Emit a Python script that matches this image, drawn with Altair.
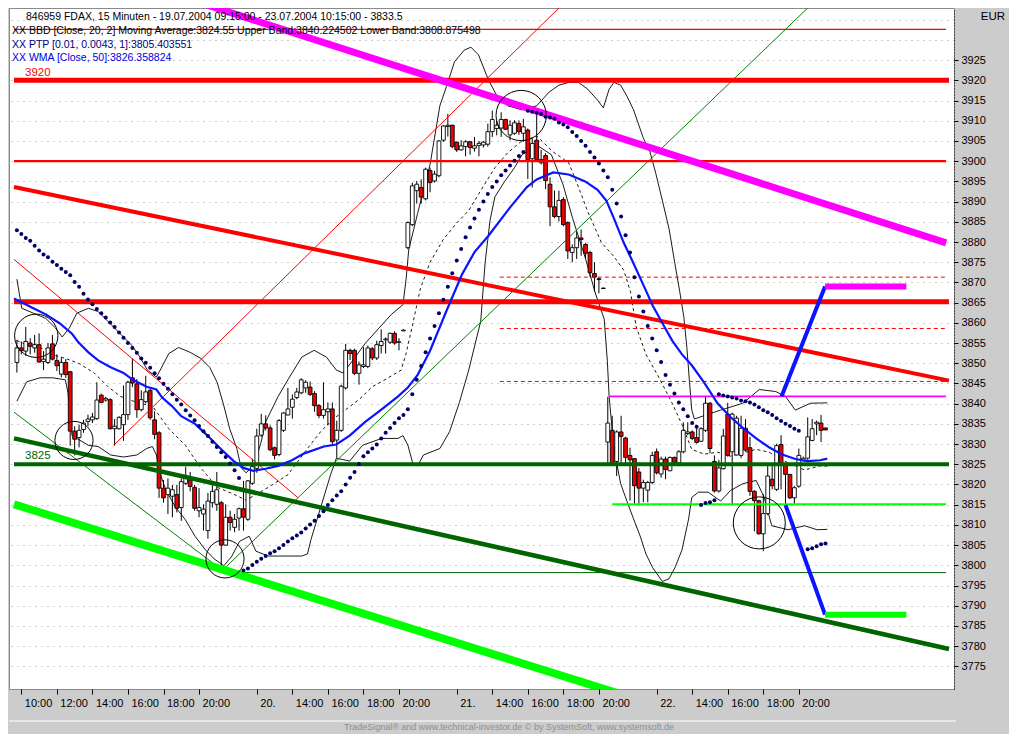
import altair as alt
import pandas as pd

# ---------------- candles (15-minute bars, index 0..182) ----------------
opens = [3850.2, 3853.8, 3853.0, 3855.0, 3853.8, 3854.6, 3850.4, 3850.2, 3854.8, 3850.7,
         3847.3, 3850.2, 3847.9, 3833.2, 3831.6, 3833.6, 3835.6, 3836.0, 3836.3, 3842.1,
         3840.9, 3841.0, 3833.8, 3833.8, 3834.8, 3837.3, 3846.4, 3844.9, 3838.5, 3840.5,
         3843.3, 3836.0, 3832.8, 3819.1, 3817.5, 3817.1, 3817.5, 3814.3, 3820.3, 3821.1,
         3819.3, 3813.5, 3812.7, 3808.6, 3815.5, 3815.1, 3815.5, 3805.0, 3811.9, 3809.4,
         3811.7, 3814.0, 3811.4, 3820.3, 3824.0, 3832.2, 3835.0, 3834.0, 3829.1, 3827.4,
         3833.4, 3837.2, 3839.1, 3841.5, 3842.7, 3843.9, 3844.1, 3842.5, 3839.5, 3837.1,
         3838.0, 3838.7, 3831.0, 3833.4, 3843.9, 3853.2, 3853.2, 3847.5, 3849.2, 3849.2,
         3853.6, 3851.3, 3854.4, 3855.8, 3855.2, 3857.4, 3855.2, 3858.0, 3878.6, 3884.3,
         3892.7, 3893.5, 3890.7, 3897.7, 3895.1, 3896.4, 3905.2, 3908.6, 3908.9, 3904.7,
         3902.8, 3903.6, 3904.8, 3903.2, 3903.9, 3904.0, 3904.2, 3907.3, 3908.1, 3908.2,
         3910.3, 3906.5, 3906.9, 3909.3, 3906.9, 3907.7, 3900.6, 3905.2, 3899.6, 3901.4,
         3894.3, 3888.7, 3886.3, 3890.5, 3884.8, 3877.4, 3878.6, 3881.0, 3879.4, 3877.4,
         3872.2, 3870.9, 3868.6, 3830.5, 3833.4, 3825.7, 3833.0, 3831.5, 3827.2, 3826.4,
         3823.1, 3819.1, 3818.6, 3820.5, 3828.1, 3822.6, 3826.3, 3823.4, 3826.7, 3825.3,
         3828.1, 3832.6, 3833.0, 3831.6, 3830.7, 3833.4, 3840.1, 3825.7, 3818.4, 3823.9,
         3837.4, 3828.1, 3827.3, 3827.2, 3833.9, 3829.1, 3818.3, 3816.0, 3807.8, 3812.8,
         3821.3, 3818.8, 3829.9, 3824.9, 3822.5, 3816.7, 3819.6, 3825.9, 3826.5, 3830.9,
         3835.0, 3835.2, 3834.0]
highs = [3855.8, 3855.4, 3859.0, 3856.2, 3857.0, 3857.4, 3853.0, 3855.0, 3857.0, 3852.2,
         3851.4, 3851.0, 3848.1, 3834.4, 3834.8, 3836.0, 3837.3, 3837.7, 3845.3, 3842.5,
         3841.7, 3841.3, 3836.2, 3836.9, 3844.5, 3845.7, 3851.2, 3846.1, 3843.3, 3846.9,
         3843.7, 3838.1, 3833.2, 3821.1, 3821.5, 3819.9, 3819.9, 3821.5, 3824.4, 3823.1,
         3819.9, 3819.1, 3815.1, 3817.9, 3819.9, 3823.1, 3815.9, 3815.1, 3813.5, 3812.7,
         3814.3, 3820.9, 3821.1, 3826.4, 3833.8, 3837.5, 3837.1, 3834.6, 3829.4, 3836.2,
         3837.9, 3843.9, 3842.3, 3843.9, 3846.3, 3845.8, 3845.5, 3843.1, 3839.9, 3845.3,
         3840.3, 3840.3, 3835.8, 3844.7, 3854.8, 3853.6, 3853.6, 3850.4, 3854.0, 3854.4,
         3854.0, 3855.6, 3858.4, 3856.4, 3857.6, 3857.9, 3856.2, 3858.4, 3885.1, 3894.7,
         3895.1, 3895.5, 3898.4, 3898.4, 3897.6, 3905.2, 3908.9, 3911.7, 3909.0, 3904.8,
         3905.2, 3905.2, 3905.0, 3906.0, 3905.0, 3905.0, 3909.3, 3912.5, 3910.1, 3912.1,
         3910.5, 3910.1, 3910.1, 3910.1, 3910.5, 3908.1, 3905.6, 3912.5, 3902.8, 3902.0,
         3896.0, 3892.7, 3892.7, 3891.1, 3885.1, 3879.4, 3882.6, 3883.1, 3879.8, 3877.8,
         3875.0, 3871.3, 3868.7, 3841.7, 3837.0, 3833.4, 3837.0, 3831.8, 3829.1, 3826.5,
         3824.1, 3821.2, 3820.9, 3828.1, 3828.9, 3826.9, 3826.9, 3826.9, 3826.9, 3828.5,
         3835.4, 3835.4, 3833.4, 3834.2, 3834.2, 3841.8, 3840.4, 3827.2, 3826.1, 3833.8,
         3840.2, 3837.8, 3837.0, 3837.0, 3836.2, 3831.8, 3818.6, 3816.2, 3817.6, 3824.9,
         3824.9, 3830.1, 3832.2, 3825.3, 3822.6, 3819.6, 3828.9, 3826.9, 3836.6, 3836.2,
         3835.8, 3837.2, 3834.0]
lows = [3847.7, 3852.2, 3851.8, 3852.2, 3852.6, 3850.2, 3848.3, 3849.8, 3850.7, 3848.1,
        3846.5, 3846.4, 3829.6, 3827.2, 3829.2, 3832.8, 3834.4, 3835.2, 3836.0, 3840.1,
        3840.5, 3833.6, 3829.6, 3833.6, 3830.8, 3836.0, 3844.1, 3836.5, 3838.1, 3840.1,
        3836.0, 3831.2, 3816.7, 3815.5, 3812.7, 3811.9, 3813.1, 3811.0, 3819.9, 3818.3,
        3813.5, 3811.9, 3808.6, 3806.6, 3814.3, 3813.5, 3799.0, 3804.8, 3808.6, 3808.2,
        3808.6, 3808.6, 3811.0, 3819.9, 3822.9, 3831.8, 3833.4, 3828.2, 3826.2, 3827.0,
        3833.0, 3837.1, 3836.3, 3841.1, 3842.3, 3842.7, 3841.9, 3838.0, 3836.4, 3836.3,
        3834.6, 3829.8, 3826.6, 3833.0, 3843.5, 3850.8, 3847.1, 3844.7, 3848.8, 3848.8,
        3850.8, 3850.8, 3852.4, 3852.4, 3854.8, 3854.6, 3853.2, 3858.0, 3878.2, 3883.9,
        3889.5, 3889.5, 3890.3, 3892.3, 3894.7, 3896.0, 3904.8, 3906.1, 3903.2, 3902.3,
        3902.6, 3901.2, 3901.6, 3902.4, 3901.2, 3903.4, 3903.6, 3906.0, 3906.4, 3906.0,
        3907.7, 3905.2, 3906.5, 3906.5, 3904.8, 3895.6, 3893.5, 3900.0, 3899.2, 3893.1,
        3883.9, 3885.9, 3885.1, 3883.9, 3875.8, 3875.0, 3875.8, 3876.6, 3875.8, 3871.3,
        3867.7, 3867.3, 3868.4, 3825.3, 3824.9, 3822.1, 3825.3, 3825.3, 3816.0, 3815.2,
        3814.8, 3815.6, 3815.6, 3820.1, 3822.5, 3821.7, 3821.3, 3823.3, 3824.9, 3824.9,
        3827.7, 3832.2, 3831.0, 3830.1, 3830.5, 3833.0, 3827.7, 3818.0, 3818.0, 3823.7,
        3826.9, 3815.2, 3827.2, 3826.5, 3828.1, 3817.2, 3808.4, 3807.6, 3803.5, 3812.4,
        3818.8, 3818.4, 3818.8, 3815.2, 3816.4, 3815.2, 3819.2, 3825.7, 3826.1, 3830.7,
        3832.2, 3830.5, 3833.5]
closes = [3853.8, 3853.1, 3855.4, 3854.2, 3854.6, 3850.3, 3851.0, 3853.8, 3851.0, 3849.4,
          3850.2, 3847.2, 3833.2, 3831.2, 3833.4, 3835.2, 3836.2, 3836.7, 3840.9, 3840.3,
          3841.3, 3833.8, 3834.4, 3836.6, 3837.3, 3845.3, 3845.1, 3838.5, 3841.0, 3842.9,
          3836.5, 3832.4, 3819.1, 3816.7, 3819.1, 3818.7, 3814.1, 3820.7, 3821.5, 3819.5,
          3814.1, 3814.3, 3813.9, 3815.9, 3818.3, 3818.7, 3805.0, 3811.9, 3810.6, 3811.4,
          3814.0, 3811.9, 3820.9, 3824.4, 3832.0, 3835.0, 3834.0, 3828.6, 3827.2, 3835.8,
          3837.7, 3838.7, 3841.1, 3842.9, 3845.9, 3845.3, 3842.3, 3839.5, 3837.1, 3838.5,
          3838.7, 3830.6, 3833.4, 3844.3, 3853.2, 3852.4, 3847.5, 3849.6, 3849.6, 3853.8,
          3851.3, 3854.6, 3855.4, 3856.0, 3857.4, 3855.0, 3855.3, 3858.2, 3884.8, 3893.9,
          3894.3, 3891.1, 3898.0, 3894.7, 3896.8, 3905.0, 3908.7, 3908.9, 3903.6, 3902.8,
          3903.8, 3904.8, 3903.4, 3903.8, 3904.4, 3904.7, 3907.3, 3910.3, 3908.9, 3910.3,
          3907.9, 3908.9, 3909.5, 3907.3, 3908.5, 3900.4, 3904.4, 3900.4, 3900.4, 3895.2,
          3888.7, 3886.3, 3890.3, 3884.3, 3877.8, 3878.6, 3881.0, 3880.6, 3877.2, 3872.4,
          3871.3, 3870.7, 3868.5, 3835.2, 3825.3, 3833.0, 3831.9, 3826.7, 3826.1, 3819.7,
          3819.1, 3820.5, 3820.5, 3827.2, 3822.9, 3826.3, 3823.7, 3826.7, 3825.5, 3828.1,
          3833.4, 3833.0, 3831.4, 3830.4, 3833.8, 3840.1, 3828.9, 3818.4, 3824.1, 3832.0,
          3827.2, 3837.4, 3836.4, 3833.9, 3828.5, 3818.3, 3816.0, 3807.8, 3812.8, 3822.1,
          3819.7, 3829.6, 3824.9, 3822.5, 3816.7, 3819.2, 3827.2, 3826.5, 3831.8, 3833.8,
          3835.4, 3833.4, 3833.5]
bars = list(range(len(opens)))

# ---------------- WMA(50) ----------------
wma_bars = [-0.65, 3.7, 6.5, 9.6, 12.4, 13.9, 16.1, 18.3, 21.1, 24.0, 26.1, 29.2, 31.4, 32.7,
            34.9, 37.0, 40.1, 42.9, 45.8, 48.8, 51.0, 53.2, 56.0, 58.8, 61.9, 64.7, 69.1,
            71.9, 74.9, 78.4, 82.1, 85.8, 88.0, 90.2, 93.0, 96.7, 100.2, 103.0, 106.1, 111.1,
            114.8, 117.0, 120.7, 124.2, 127.9, 130.7, 132.7, 134.4, 136.6, 138.8, 141.0,
            143.1, 145.3, 147.5, 149.7, 151.9, 154.7, 157.7, 160.6, 163.4, 166.4, 169.3,
            172.1, 175.2, 178.0, 180.8, 182.4]
wma_vals = [3866.0, 3863.6, 3862.1, 3859.9, 3857.3, 3855.1, 3852.7, 3850.7, 3849.0, 3847.6,
            3845.9, 3844.2, 3843.5, 3841.5, 3839.4, 3836.9, 3835.0, 3832.1, 3828.9, 3825.8,
            3824.1, 3823.4, 3823.9, 3824.6, 3826.0, 3827.7, 3829.4, 3829.9, 3832.1, 3835.5,
            3838.6, 3841.8, 3844.0, 3847.1, 3853.1, 3863.0, 3872.0, 3877.5, 3881.5, 3888.7,
            3893.6, 3895.5, 3897.2, 3896.7, 3895.0, 3892.9, 3890.2, 3885.8, 3879.8, 3874.7,
            3869.4, 3864.3, 3859.9, 3855.6, 3852.2, 3849.5, 3845.2, 3840.1, 3836.7, 3834.0,
            3831.4, 3829.2, 3827.5, 3826.3, 3825.8, 3826.0, 3826.4]

# ---------------- Bollinger bands (20, 2) ----------------
bb_up_bars = [0.0, 1.1, 3.7, 6.5, 8.7, 10.2, 11.8, 13.5, 16.1, 18.3, 21.1, 23.7, 25.9, 27.7,
              29.4, 31.4, 32.5, 34.2, 36.4, 39.0, 41.4, 43.4, 45.1, 46.6, 47.9, 49.5, 50.5,
              51.6, 53.4, 54.9, 56.0, 58.8, 61.0, 64.1, 66.9, 69.7, 71.9, 73.4, 75.6, 78.4,
              81.5, 84.3, 86.9, 87.6, 88.2, 90.2, 93.0, 95.2, 96.7, 98.5, 100.7, 102.2,
              103.9, 106.1, 108.3, 110.5, 113.7, 117.0, 119.8, 122.0, 124.2, 126.4, 128.5,
              130.7, 132.0, 133.3, 134.4, 135.9, 137.3, 138.8, 141.0, 142.5, 143.8, 145.3,
              146.8, 148.1, 149.2, 150.1, 150.8, 151.4, 151.9, 152.5, 155.6, 158.4, 163.4,
              167.1, 170.8, 173.0, 175.2, 178.6, 182.4]
bb_up_vals = [3870.8, 3863.6, 3862.4, 3861.1, 3858.7, 3856.5, 3858.7, 3862.4, 3863.6, 3862.8,
              3859.7, 3856.8, 3854.4, 3851.5, 3848.3, 3846.6, 3848.8, 3852.4, 3853.9, 3852.7,
              3851.2, 3849.0, 3845.2, 3839.4, 3833.8, 3828.9, 3824.1, 3822.9, 3824.8, 3830.2,
              3835.5, 3841.8, 3845.9, 3851.5, 3853.2, 3851.5, 3848.3, 3847.6, 3850.7, 3854.9,
              3858.7, 3862.1, 3864.5, 3870.8, 3878.1, 3887.1, 3899.2, 3913.7, 3918.5, 3924.6,
              3927.5, 3928.2, 3926.3, 3920.2, 3915.6, 3913.7, 3912.7, 3913.7, 3917.1, 3918.8,
              3919.5, 3919.5, 3917.8, 3915.1, 3913.2, 3917.8, 3919.5, 3918.8, 3916.1, 3912.7,
              3905.7, 3902.3, 3897.0, 3890.2, 3883.2, 3874.7, 3867.7, 3861.6, 3853.9, 3845.2,
              3838.4, 3836.2, 3837.4, 3838.4, 3840.1, 3843.5, 3843.0, 3841.8, 3838.4, 3840.1,
              3840.2]
bb_lo_bars = [0.0, 2.2, 5.2, 8.1, 10.9, 11.5, 12.0, 12.4, 16.1, 18.3, 21.1, 24.0, 27.0, 29.2,
              30.5, 31.4, 32.0, 33.6, 35.7, 37.9, 40.1, 42.3, 44.4, 46.6, 48.4, 50.1, 52.3,
              53.8, 56.6, 61.0, 64.1, 65.4, 66.2, 68.4, 70.6, 71.9, 74.9, 77.8, 82.1, 85.8,
              86.9, 88.0, 89.1, 90.2, 91.5, 95.2, 97.4, 99.6, 101.7, 104.4, 105.4, 106.5,
              107.6, 109.8, 112.0, 113.7, 117.0, 120.3, 122.9, 125.1, 127.9, 130.1, 132.2,
              132.9, 133.3, 134.4, 135.9, 137.3, 138.8, 140.3, 141.6, 143.1, 145.3, 146.8,
              148.1, 149.7, 151.2, 151.9, 153.4, 155.6, 158.4, 160.6, 163.4, 166.4, 168.2,
              169.9, 173.6, 177.3, 180.1, 182.4]
bb_lo_vals = [3840.6, 3845.4, 3846.4, 3846.4, 3845.9, 3842.7, 3836.9, 3832.1, 3829.7, 3829.4,
              3827.3, 3826.8, 3827.3, 3828.9, 3829.4, 3827.3, 3823.4, 3818.5, 3814.4, 3811.3,
              3807.2, 3804.0, 3801.6, 3799.9, 3802.3, 3805.9, 3807.2, 3803.5, 3802.3, 3802.3,
              3802.3, 3802.8, 3806.4, 3814.4, 3822.4, 3826.5, 3825.8, 3829.7, 3831.4, 3831.4,
              3832.1, 3829.7, 3825.3, 3824.6, 3827.3, 3828.9, 3833.1, 3840.3, 3848.3, 3860.4,
              3875.0, 3885.4, 3891.2, 3895.0, 3898.4, 3901.6, 3904.0, 3901.6, 3894.3, 3885.8,
              3876.2, 3867.7, 3860.9, 3850.5, 3841.8, 3828.7, 3820.2, 3815.9, 3811.5, 3807.2,
              3802.8, 3799.4, 3796.0, 3796.7, 3799.4, 3803.8, 3811.5, 3816.8, 3818.1, 3818.1,
              3815.9, 3818.5, 3820.2, 3821.0, 3816.8, 3809.8, 3808.8, 3809.8, 3808.8, 3808.9]
bb_mid_bars = [0.0, 3.7, 6.5, 8.7, 10.9, 13.9, 17.4, 20.5, 23.3, 27.0, 30.5, 34.2, 37.9, 41.4,
               45.1, 48.8, 51.6, 56.6, 61.0, 65.4, 68.4, 71.2, 74.1, 77.1, 80.0, 82.8, 86.5,
               87.6, 89.1, 90.8, 93.0, 95.9, 98.9, 101.7, 104.6, 107.6, 110.5, 113.3, 117.0,
               120.7, 124.2, 126.4, 128.5, 131.6, 134.4, 136.6, 138.1, 139.4, 141.6, 144.7,
               147.5, 149.7, 151.9, 154.7, 157.7, 160.6, 166.4, 169.3, 173.6, 177.3, 180.8,
               182.4]
bb_mid_vals = [3855.6, 3853.9, 3853.6, 3851.9, 3851.2, 3850.0, 3847.6, 3844.2, 3841.8, 3840.3,
               3839.4, 3833.8, 3829.7, 3824.1, 3819.3, 3817.6, 3816.1, 3819.3, 3822.4, 3828.9,
               3833.1, 3836.2, 3838.6, 3841.1, 3844.2, 3845.9, 3848.3, 3852.4, 3859.7, 3868.4,
               3875.0, 3880.5, 3884.6, 3887.8, 3893.1, 3898.4, 3902.1, 3904.7, 3906.2, 3902.3,
               3899.6, 3893.6, 3887.5, 3879.8, 3876.4, 3873.0, 3867.7, 3859.0, 3852.2, 3846.1,
               3840.1, 3834.8, 3828.7, 3827.5, 3828.0, 3827.0, 3828.7, 3828.0, 3825.3, 3823.6,
               3824.6, 3824.55]

# ---------------- Parabolic (PTP) dots ----------------
sar_a = [3882.9, 3882.0, 3881.0, 3880.3, 3879.1, 3877.9, 3876.9, 3876.2, 3875.1, 3874.3,
         3873.4, 3872.6, 3871.8, 3870.1, 3868.9, 3867.2, 3865.8, 3864.6, 3863.4, 3862.4,
         3861.3, 3860.1, 3859.0, 3857.6, 3856.3, 3855.0, 3853.8, 3852.6, 3851.2, 3850.1,
         3848.9, 3847.5, 3846.3, 3844.9, 3843.7, 3842.3, 3841.0, 3839.8, 3838.4, 3837.1,
         3835.9, 3834.5, 3833.2, 3832.0, 3830.6, 3829.3, 3828.0, 3826.8, 3825.2, 3823.5,
         3821.6]                                    # bars 0..50
sar_b = [3798.7, 3799.2, 3800.1, 3800.9, 3801.6, 3802.3, 3803.0, 3803.5, 3804.2, 3805.0,
         3805.9, 3806.7, 3807.4, 3808.1, 3809.1, 3810.1, 3811.0, 3812.2, 3813.4, 3814.9,
         3816.1, 3817.3, 3818.3, 3820.0, 3821.7, 3823.1, 3825.1, 3827.0, 3828.0, 3828.9,
         3829.9, 3831.4, 3832.8, 3834.0, 3835.2, 3836.4, 3837.2, 3838.6, 3842.3, 3845.9,
         3849.3, 3852.7, 3856.1, 3859.2, 3862.4, 3865.7, 3868.9, 3872.3, 3875.4, 3878.3,
         3881.2, 3883.6, 3885.8, 3888.0, 3890.0, 3891.9, 3893.6, 3895.0, 3896.5, 3897.7,
         3898.9, 3900.1, 3901.3, 3902.3]            # bars 51..114
sar_c = [3912.5, 3912.2, 3912.0, 3911.7, 3911.0, 3910.8, 3910.5, 3909.6, 3909.1, 3908.4,
         3907.2, 3906.2, 3905.0, 3903.8, 3902.3, 3900.9, 3899.4, 3897.7, 3896.0, 3892.9,
         3889.5, 3886.3, 3881.7, 3877.4, 3871.3, 3866.5, 3862.8, 3859.2, 3856.1, 3853.2,
         3850.3, 3847.1, 3844.7, 3842.5, 3840.3, 3838.6, 3836.9, 3835.2, 3834.3]  # 115..153
sar_d = [3814.9, 3815.4, 3815.6, 3816.1]           # bars 154..157
sar_e = [3842.3, 3842.0, 3841.8, 3841.5, 3841.3, 3840.8, 3840.6, 3840.3, 3839.8, 3839.1,
         3838.4, 3837.9, 3837.2, 3836.4, 3835.7, 3835.0, 3834.5, 3833.8, 3833.3]  # 158..176
sar_f = [3804.0, 3804.2, 3804.7, 3805.2, 3805.4]   # bars 178..182
sar_bars = (list(range(0, 51)) + list(range(51, 115)) + list(range(115, 154)) +
            list(range(154, 158)) + list(range(158, 177)) + list(range(178, 183)))
sar_vals = sar_a + sar_b + sar_c + sar_d + sar_e + sar_f

# ---------------- drawn levels / trend lines (bar index, price) ----------------
red_heavy_levels = [3920.0, 3865.2]
red_light_levels = [3932.6, 3900.0]
green_level = [3825.0]
fib_levels = [3871.3, 3858.6, 3845.5]
magenta_level = [3841.8]
lime_level = [3815.1]
green_thin_level = [3798.2]

magenta_trend = ([38.1, 209.15], [3940.3, 3879.8])
red_trend = ([-0.65, 209.8], [3893.6, 3845.7])
green_trend = ([-0.65, 209.8], [3831.4, 3779.3])
lime_trend = ([-0.65, 138.6], [3815.1, 3767.2])
red_thin_down = ([-0.65, 63.2], [3875.7, 3816.8])
red_thin_up = ([21.8, 122.0], [3829.7, 3937.9])
green_thin_up = ([46.2, 178.0], [3798.7, 3937.9])
green_thin_down = ([-0.65, 45.75], [3837.9, 3799.2])
proj_up = ([172.1, 181.9], [3841.8, 3869.0])
proj_down = ([173.0, 181.9], [3814.9, 3787.8])
target_high = ([181.9, 200.2], [3869.0, 3869.0])
target_low = ([181.9, 200.2], [3787.8, 3787.8])

circle_bars = [4.36, 12.85, 46.84, 113.5, 167.1]
circle_prices = [3856.8, 3830.9, 3801.6, 3911.3, 3810.5]

# ---------------- axis ----------------
tick_bars = [1, 9, 17, 25, 33, 41, 54, 62, 70, 78, 86, 99, 107, 115, 123, 131, 144, 152, 160, 168, 176]
tick_labels = ["10:00", "12:00", "14:00", "16:00", "18:00", "20:00", "20.", "14:00", "16:00",
               "18:00", "20:00", "21.", "14:00", "16:00", "18:00", "20:00", "22.", "14:00",
               "16:00", "18:00", "20:00"]
price_ticks = list(range(3775, 3940, 5))

# ======================= styling / layout =======================
W, H = 945, 681
FONT = "Liberation Sans"
xs = alt.Scale(domain=[-0.65, 209.8], nice=False, zero=False)
ys = alt.Scale(domain=[3769.4, 3937.9], nice=False, zero=False)

ticks_js = "[" + ",".join(str(t) for t in tick_bars) + "]"
labels_js = "[" + ",".join("'" + l + "'" for l in tick_labels) + "]"
XAX = alt.Axis(values=tick_bars, labelExpr=f"{labels_js}[indexof({ticks_js}, datum.value)]",
               title=None, grid=False, domain=False, tickColor="black", tickSize=5,
               labelAlign="left", labelOffset=3, labelPadding=3, labelFont=FONT,
               labelFontSize=11, labelColor="black", labelFlush=False, labelOverlap=False,
               labelBound=False)
YAX = alt.Axis(values=price_ticks, orient="right", title=None,
               labelExpr="datum.value > 3925 ? '' : datum.label", format="d",
               grid=True, gridColor="#9a9a9a", gridDash=[1, 5], gridWidth=1,
               domainColor="black", domainDash=[1, 2], tickColor="black", tickSize=4,
               tickOpacity={"condition": {"test": "datum.value > 3925", "value": 0}, "value": 1},
               labelPadding=3, labelFont=FONT, labelFontSize=11, labelColor="black",
               labelOverlap=False)


def X(f):
    return alt.X(f, type="quantitative", scale=xs, axis=XAX)


def Y(f):
    return alt.Y(f, type="quantitative", scale=ys, axis=YAX)


candles = pd.DataFrame({"bar": bars, "o": opens, "h": highs, "l": lows, "c": closes})

def line_df(b, v):
    return pd.DataFrame({"bar": b, "val": v})

def band(b, v, **kw):
    return alt.Chart(line_df(b, v)).mark_line(clip=True, **kw).encode(x=X("bar"), y=Y("val"))

layers = []
layers.append(band(bb_up_bars, bb_up_vals, color="black", strokeWidth=0.9))
layers.append(band(bb_lo_bars, bb_lo_vals, color="black", strokeWidth=0.9))
layers.append(band(bb_mid_bars, bb_mid_vals, color="black", strokeWidth=0.9, strokeDash=[3, 3]))

wicks = alt.Chart(candles).mark_rule(color="black", strokeWidth=1).encode(
    x=X("bar"), y=Y("h"), y2="l")
bodies = alt.Chart(candles).mark_bar(size=3.8, stroke="black", strokeWidth=0.9).encode(
    x=X("bar"), y=Y("o"), y2="c",
    fill=alt.condition("datum.c >= datum.o", alt.value("white"), alt.value("#ee0000")))
layers += [wicks, bodies]


def hlevels(levels, x0, x1, **kw):
    df = pd.DataFrame({"p": levels, "b0": [x0] * len(levels), "b1": [x1] * len(levels)})
    return alt.Chart(df).mark_rule(clip=True, **kw).encode(x=X("b0"), x2="b1", y=Y("p"))


def seg(pair, **kw):
    (b0, b1), (p0, p1) = pair
    df = pd.DataFrame({"b0": [b0], "b1": [b1], "p0": [p0], "p1": [p1]})
    return alt.Chart(df).mark_rule(clip=True, **kw).encode(x=X("b0"), x2="b1", y=Y("p0"), y2="p1")


RIGHT = 209.15
layers += [
    seg(red_thin_down, color="#ff0000", strokeWidth=1),
    seg(red_thin_up, color="#ff0000", strokeWidth=1),
    seg(green_thin_up, color="#008000", strokeWidth=1),
    seg(green_thin_down, color="#008000", strokeWidth=1),
    hlevels(fib_levels, 108.7, RIGHT, color="#ff0000", strokeWidth=1, strokeDash=[4, 3]),
    hlevels(red_light_levels[:1], -0.65, RIGHT, color="#ff0000", strokeWidth=1.2),
    hlevels(red_light_levels[1:], -0.65, RIGHT, color="#ff0000", strokeWidth=2.2),
    hlevels(red_heavy_levels, -0.65, 209.8, color="#ff0000", strokeWidth=5),
    hlevels(green_thin_level, 45.75, RIGHT, color="#006400", strokeWidth=1),
    hlevels(magenta_level, 133.3, RIGHT, color="#ff00ff", strokeWidth=1.6),
    hlevels(lime_level, 134.0, RIGHT, color="#00ff00", strokeWidth=2),
    hlevels(green_level, -0.65, 209.8, color="#006400", strokeWidth=4),
    seg(red_trend, color="#ff0000", strokeWidth=4),
    seg(green_trend, color="#006400", strokeWidth=4.5),
    seg(lime_trend, color="#00ff00", strokeWidth=8),
    seg(magenta_trend, color="#ff00ff", strokeWidth=7),
]

circ_px = [25, 22, 22, 29, 30]  # circle radii (style)
circ_df = pd.DataFrame({"bar": circle_bars, "p": circle_prices,
                        "s": [3.1416 * (r * 0.978) ** 2 for r in circ_px]})
layers.append(alt.Chart(circ_df).mark_point(shape="circle", filled=False, color="black",
                                            strokeWidth=1, opacity=1).encode(
    x=X("bar"), y=Y("p"), size=alt.Size("s:Q", scale=None, legend=None)))

layers.append(band(wma_bars, wma_vals, color="#0a14ff", strokeWidth=2.2))

sar_df = line_df(sar_bars, sar_vals)
layers.append(alt.Chart(sar_df).mark_circle(size=16, color="#000066", opacity=1).encode(
    x=X("bar"), y=Y("val")))

layers += [
    seg(proj_up, color="#0a14ff", strokeWidth=4),
    seg(proj_down, color="#0a14ff", strokeWidth=4),
    seg(target_high, color="#ff00ff", strokeWidth=6),
    seg(target_low, color="#00ff00", strokeWidth=6),
]

# ---------------- texts ----------------
one = pd.DataFrame({"k": [0]})


def txt(s, x, y, color="black", size=10.5, align="left", font=FONT):
    return alt.Chart(one).mark_text(text=s, align=align, baseline="middle", font=font,
                                    fontSize=size, color=color).encode(
        x=alt.value(x), y=alt.value(y))


layers += [
    txt("846959  FDAX, 15 Minuten - 19.07.2004 09:15:00 - 23.07.2004 10:15:00 - 3833.5", 17, 9),
    txt("XX BBD [Close, 20, 2] Moving Average:3824.55 Upper Band:3840.224502 Lower Band:3808.875498", 3, 23),
    txt("XX PTP [0.01, 0.0043, 1]:3805.403551", 3, 36.5, color="#000080"),
    txt("XX WMA [Close, 50]:3826.358824", 3, 50, color="#0000dd"),
    txt("3920", 16, 65, color="#ff0000", size=11.5),
    txt("3825", 16, 448, color="#006400", size=11.5),
    txt("EUR", 996, 9, size=11.5, align="right"),
    txt("TradeSignal® and www.technical-investor.de © by SystemSoft, www.systemsoft.de",
        500, 719, color="#8e8e8e", size=9, align="center"),
]
layers.append(alt.Chart(one).mark_rule(color="white", strokeWidth=1).encode(
    x=alt.value(0), x2=alt.value(W + 2), y=alt.value(H + 32)))

chart = alt.layer(*layers).properties(
    width=W, height=H, background="#cccccc",
    padding={"left": 0, "top": 0, "right": 4, "bottom": 2},
).configure_view(fill="white", stroke="#8a8a8a", strokeWidth=1)

chart.save("out.html", embed_options={"renderer": "svg", "actions": False})
